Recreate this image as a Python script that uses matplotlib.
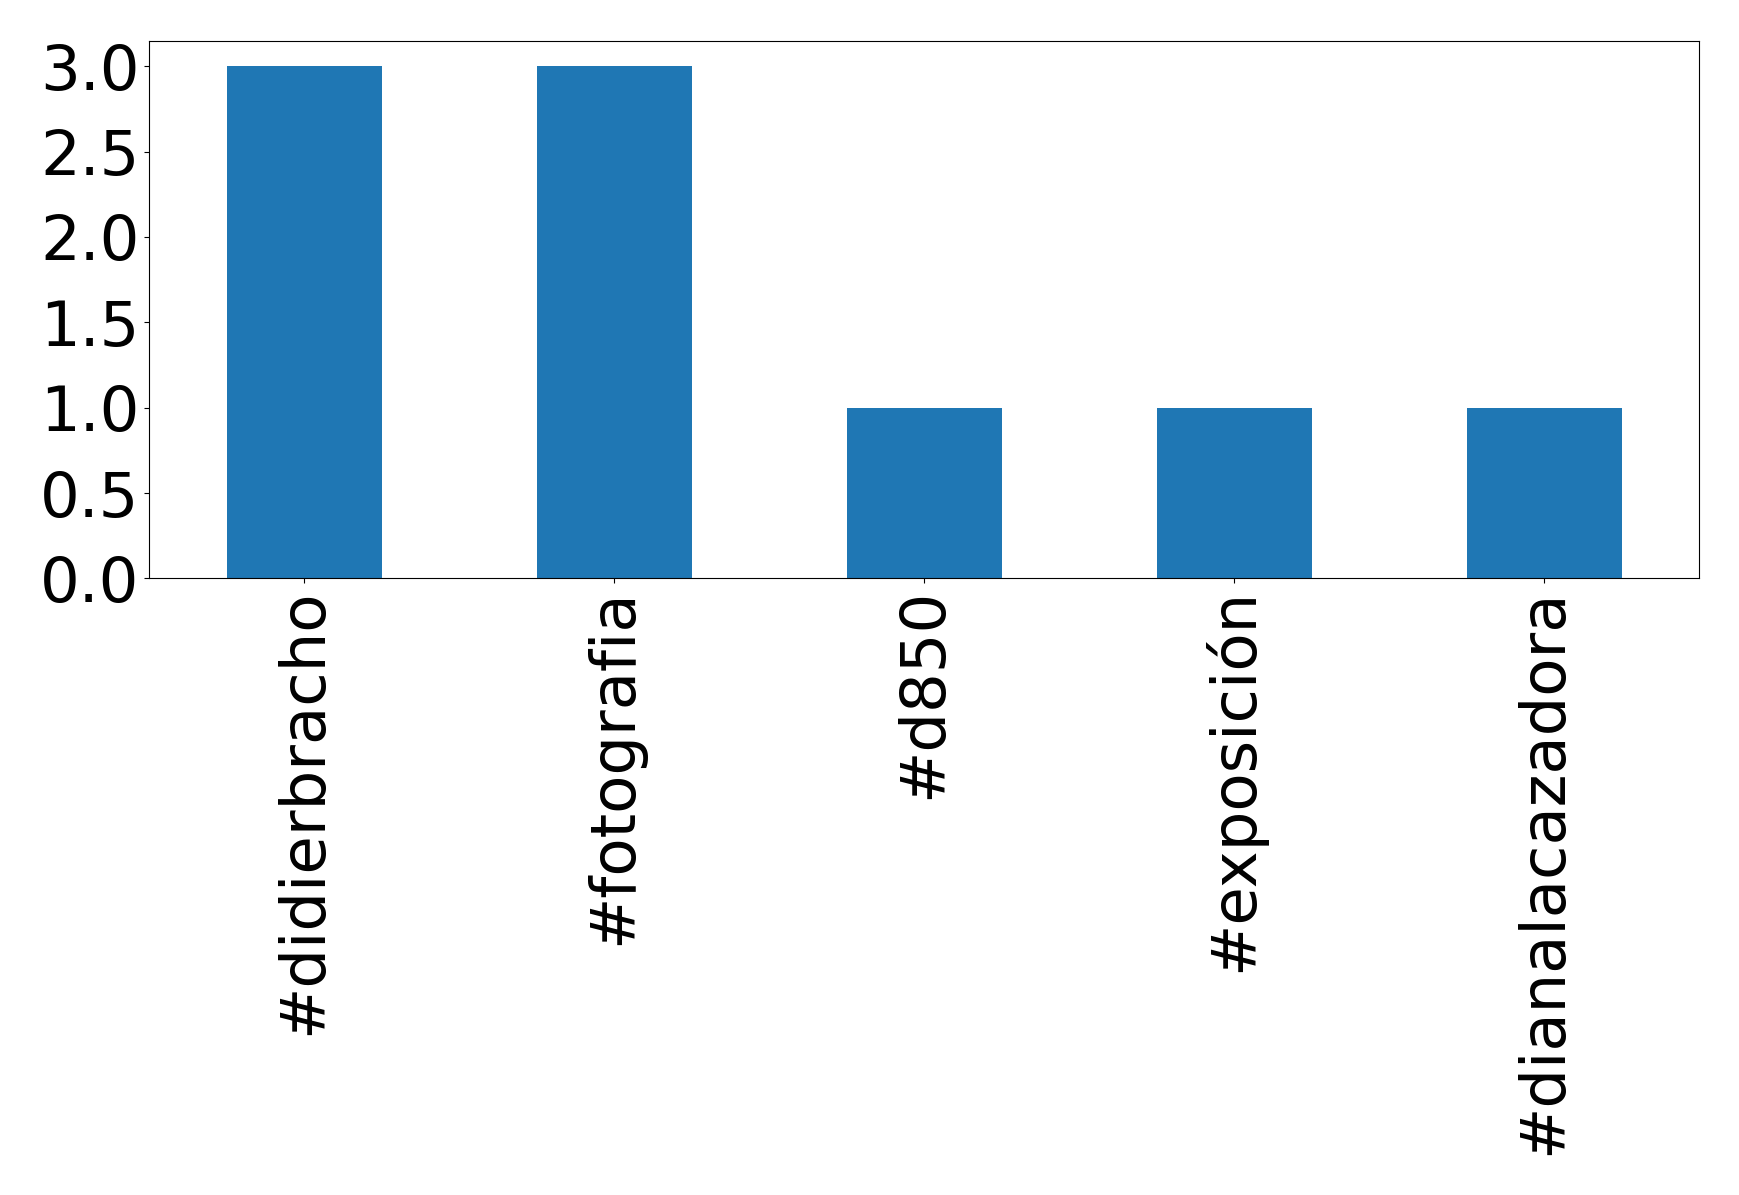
import pandas as pd
import matplotlib
matplotlib.use('Agg')
import matplotlib.pyplot as plt

# hashtag counts
tags = ['#didierbracho', '#fotografia', '#d850', '#exposición', '#dianalacazadora']
counts = [3, 3, 1, 1, 1]

data = pd.Series(counts, index=tags)

fig = plt.figure(figsize=(17.39, 11.95), dpi=100)
ax = fig.add_subplot(111)
data.plot(kind='bar', ax=ax, color='#1f77b4', fontsize=45)
ax.tick_params(axis='x', labelrotation=90)

fig.subplots_adjust(left=0.0857, right=0.977, top=0.966, bottom=0.516)
fig.savefig('out.png', dpi=100)
